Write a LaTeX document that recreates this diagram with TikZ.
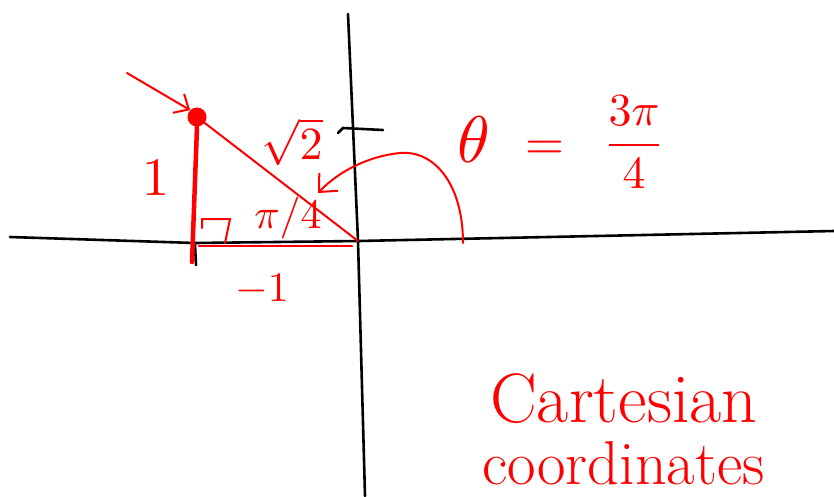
\documentclass[tikz,border=0pt]{standalone}
\usepackage{amssymb}
\usepackage{pgf, tikz}
\usetikzlibrary{arrows.meta}
\pgfdeclarelayer{edgelayer}
\pgfdeclarelayer{nodelayer}
\pgfsetlayers{edgelayer,nodelayer,main}
\tikzstyle{axisedge}=[draw=black, line width=2.6pt, line cap=round]
\tikzstyle{rededge}=[draw=red, line width=2.6pt, line cap=round]
\tikzstyle{thinedge}=[draw=red, line width=2pt, line cap=round]
\tikzstyle{reddot}=[circle, fill=red, inner sep=0pt, minimum size=19pt]
\tikzstyle{redlabel}=[text=red, inner sep=0pt]

\begin{document}
\begin{tikzpicture}[x=1pt, y=-1pt]
						\useasboundingbox (0, 0) rectangle (834, 496);
						\clip (0, 0) rectangle (834, 496);
						\begin{pgfonlayer}{nodelayer}
							\node [style=reddot] (P) at (197, 117) {};
							\coordinate (O) at (358, 241);
							\coordinate (xl) at (10, 237);
							\coordinate (xm) at (195, 243);
							\coordinate (xr) at (834, 231);
							\coordinate (yt) at (348, 14);
							\coordinate (yb) at (365, 496);
							\coordinate (tl) at (338, 133);
							\coordinate (tm) at (343, 128);
							\coordinate (tr) at (383, 130);
							\coordinate (F) at (192, 262);
							\coordinate (hl) at (199, 246);
							\coordinate (hr) at (352, 246);
							\coordinate (r1) at (202, 228);
							\coordinate (r2) at (230, 219);
							\coordinate (r3) at (225, 243);
							\coordinate (arcstart) at (463, 243);
							\coordinate (arcend) at (318, 193);
							\coordinate (marker) at (127, 73);
							\node [style=redlabel] (one) at (156, 178) {\scalebox{5.4}{$1$}};
							\node [style=redlabel] (hyp) at (292, 142) {\scalebox{4.6}{$\sqrt{2}$}};
							\node [style=redlabel] (angle) at (288, 218) {\scalebox{4.2}{$\pi/4$}};
							\node [style=redlabel] (negone) at (262, 290) {\scalebox{4.2}{$-1$}};
							\node [style=redlabel] (theta) at (474, 140) {\scalebox{6.6}{$\theta$}};
							\node [style=redlabel] (eq) at (545, 150) {\scalebox{5}{$=$}};
							\node [style=redlabel] (frac) at (634, 142) {\scalebox{4.6}{$\displaystyle\frac{3\pi}{4}$}};
							\node [style=redlabel, anchor=base west, font=\fontsize{70}{70}\selectfont] (cart) at (490, 422) {Cartesian};
							\node [style=redlabel, anchor=base west, font=\fontsize{62}{62}\selectfont] (coord) at (482, 484) {coordinates};
						\end{pgfonlayer}
						\begin{pgfonlayer}{edgelayer}
							\draw [style=axisedge] (xl) -- (xm) -- (O) -- (xr);
							\draw [style=axisedge] (yt) -- (O) -- (yb);
							\draw [style=axisedge] (tl) -- (tm) -- (tr);
							\draw [style=axisedge] (195, 245) -- (196, 265);
							\draw [style=thinedge] (P) -- (O);
							\draw [style=rededge, line width=4.5pt] (P.south) -- (F);
							\draw [style=rededge] (hl) -- (hr);
							\draw [style=thinedge] (r1) -- (r1 |- r2) -- (r2) -- (r3);
							\draw [style=thinedge, -{Straight Barb[length=14pt, width=26pt]}] (arcstart) .. controls (463, 185) and (435, 150) .. (400, 153) .. controls (370, 156) and (340, 170) .. (arcend);
							\draw [style=thinedge, -{Straight Barb[length=12pt, width=22pt]}] (marker) -- (P.north west);
						\end{pgfonlayer}
					\end{tikzpicture}
\end{document}
